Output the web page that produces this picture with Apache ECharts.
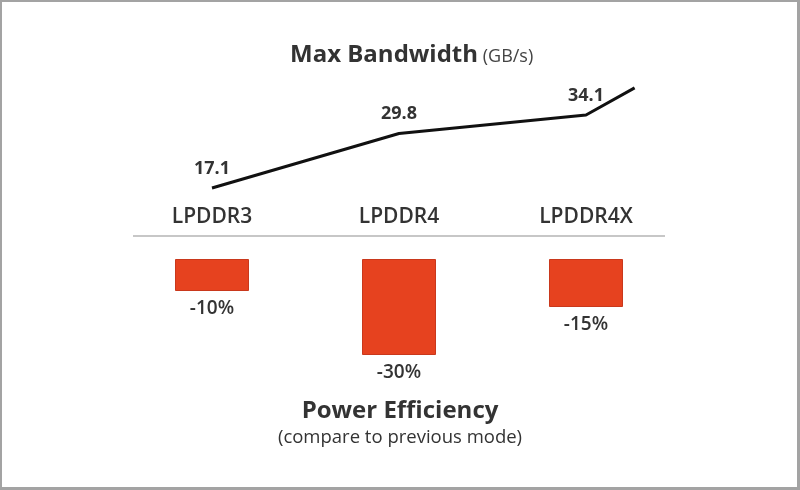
<!DOCTYPE html>
<html>
<head>
<meta charset="utf-8">
<script src="https://cdn.jsdelivr.net/npm/echarts@6/dist/echarts.min.js"></script>
<style>
  html, body { margin: 0; padding: 0; background: #fff; }
  #main { position: absolute; left: 0; top: 0; width: 800px; height: 490px; }
  #frame { position: absolute; left: 0; top: 0; width: 800px; height: 490px; box-sizing: border-box;
           border-style: solid; border-color: #a3a3a3; border-width: 2px 3px 3px 2px; pointer-events: none; }
</style>
</head>
<body>
<div id="main"></div>
<div id="frame"></div>
<script>
const categories = ['LPDDR3', 'LPDDR4', 'LPDDR4X'];
const bandwidth = [17.1, 29.8, 34.1];
// trend tail drawn past the last point (no label)
const bandwidthTail = [2.26, 40.4];
const powerEfficiency = [-10, -30, -15];

const FONT = '"Open Sans", "Noto Sans", sans-serif';

const linePoints = bandwidth.map((v, i) => ({ value: [i, v] }));
linePoints.push({ value: bandwidthTail, label: { show: false } });

const chart = echarts.init(document.getElementById('main'));

chart.setOption({
    animation: false,
    textStyle: { fontFamily: FONT },
    title: [
        {
            text: '{b|Max Bandwidth} {s|(GB/s)}',
            left: 285, top: 38,
            textStyle: {
                rich: {
                    b: { fontSize: 24, fontWeight: 'bold', color: '#333', fontFamily: FONT },
                    s: { fontSize: 18, fontWeight: 'normal', color: '#444', fontFamily: FONT, padding: [4, 0, 0, 0] }
                }
            }
        },
        {
            text: 'Power Efficiency',
            subtext: '(compare to previous mode)',
            left: 'center', top: 394,
            itemGap: 5,
            textStyle: { fontSize: 24, fontWeight: 'bold', color: '#333', fontFamily: FONT },
            subtextStyle: { fontSize: 18.5, color: '#333', fontFamily: FONT }
        }
    ],
    grid: [
        { left: 118.5, width: 561, top: 46.7, height: 214.7 },
        { left: 118.5, width: 561, top: 259, height: 96 }
    ],
    xAxis: [
        {
            gridIndex: 0, type: 'value', min: -0.5, max: 2.5,
            show: false
        },
        {
            gridIndex: 1, type: 'category', data: categories, position: 'top',
            axisLine: { show: false }, axisTick: { show: false },
            axisLabel: { margin: 31, fontSize: 21, fontWeight: 600, color: '#333', fontFamily: FONT }
        }
    ],
    yAxis: [
        { gridIndex: 0, type: 'value', min: 0, max: 50, show: false },
        { gridIndex: 1, type: 'value', min: -30, max: 0, show: false }
    ],
    graphic: [
        {
            type: 'line',
            shape: { x1: 133, y1: 236, x2: 665, y2: 236 },
            style: { stroke: '#b5b5b5', lineWidth: 1.5 }
        }
    ],
    series: [
        {
            type: 'line',
            xAxisIndex: 0, yAxisIndex: 0,
            data: linePoints,
            symbol: 'circle', symbolSize: 1, showSymbol: true,
            itemStyle: { color: 'rgba(0,0,0,0)' },
            lineStyle: { color: '#111', width: 3 },
            label: {
                show: true, position: 'top', distance: 10,
                fontSize: 18, fontWeight: 'bold', color: '#333', fontFamily: FONT,
                formatter: p => p.value[1].toFixed(1)
            }
        },
        {
            type: 'bar',
            xAxisIndex: 1, yAxisIndex: 1,
            data: powerEfficiency,
            barWidth: 74,
            itemStyle: { color: '#e6421f', borderColor: '#c9381c', borderWidth: 1 },
            label: {
                show: true, position: 'bottom', distance: 8,
                fontSize: 19, fontWeight: 600, color: '#333', fontFamily: FONT,
                formatter: p => p.value + '%'
            }
        }
    ]
});
</script>
</body>
</html>
